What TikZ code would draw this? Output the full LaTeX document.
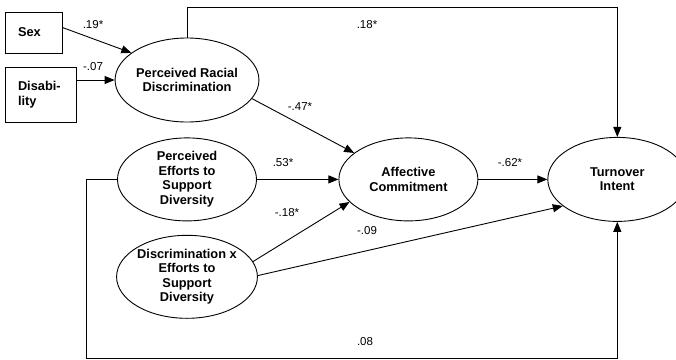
\documentclass[tikz,border=0pt]{standalone}
\usepackage{fontspec}
\setmainfont{Liberation Sans}
\usetikzlibrary{shapes.geometric,arrows.meta,positioning}

\tikzset{
  latent/.style={ellipse, draw, line width=0.9pt, inner sep=0pt,
    minimum width=139pt, minimum height=83pt, align=center,
    font=\fontsize{12.8}{14.5}\selectfont\bfseries},
  obs/.style={rectangle, draw, line width=0.9pt, inner xsep=13pt, align=left,
    font=\fontsize{12.8}{14.5}\selectfont\bfseries},
  edg/.style={line width=0.9pt, -{Triangle[length=10pt,width=8pt]}},
  coef/.style={inner sep=0pt, font=\fontsize{11.5}{13}\selectfont},
}

\begin{document}
\begin{tikzpicture}[x=1pt, y=1pt]

    \useasboundingbox (0,0) rectangle (676,-359);

    % observed predictors
    \node[obs, text width=31pt, minimum height=41pt] (sex) at (33.5,-32.5) {Sex};
    \node[obs, text width=45pt, minimum height=55pt] (dis) at (40.5,-94.5) {Disabi-\\lity};

    % latent constructs
    \node[latent, minimum width=142pt, minimum height=84pt] (prd) at (187,-80) {Perceived Racial\\Discrimination};
    \node[latent, below=15pt of prd] (pe) {Perceived\\Efforts to\\Support\\Diversity};
    \node[latent, below=13.5pt of pe] (disc) {Discrimination x\\Efforts to\\Support\\Diversity};
    \node[latent, right=81.5pt of pe] (ac) {Affective\\Commitment};
    \node[latent, right=69pt of ac, minimum height=84pt] (ti) {Turnover\\Intent};

    \draw[edg] ([yshift=5pt]sex.east) -- (prd.154) ; %
    \draw[edg] (dis.east |- prd.west) -- (prd.west) ; %
    \draw[edg] (prd.north) -- ++(0,30) -| (ti.north) ; %
    \draw[edg] (prd.-16) -- (ac.154) ; %
    \draw[edg] (pe.east) -- (ac.west) ; %
    \draw[edg] (disc.13) -- (ac.201) ; %
    \draw[edg] (disc.1) -- (ti.206) ; %
    \draw[edg] (ac.east) -- (ti.west) ; %
    \draw[edg] (pe.west) -| ++(-31,-179) -| (ti.south) ; %

    % path coefficients
    \node[coef] (w-sex) at (93,-25) {.19*};
    \node[coef] (w-dis) at (93,-67) {-.07};
    \node[coef] (w-prd-ti) at (367,-25) {.18*};
    \node[coef] (w-prd-ac) at (300,-107) {-.47*};
    \node[coef] (w-pe-ac) at (283,-163) {.53*};
    \node[coef] (w-disc-ac) at (287,-213) {-.18*};
    \node[coef] (w-disc-ti) at (367,-231) {-.09};
    \node[coef] (w-ac-ti) at (510,-163) {-.62*};
    \node[coef] (w-pe-ti) at (365,-342) {.08};

\end{tikzpicture}
\end{document}
